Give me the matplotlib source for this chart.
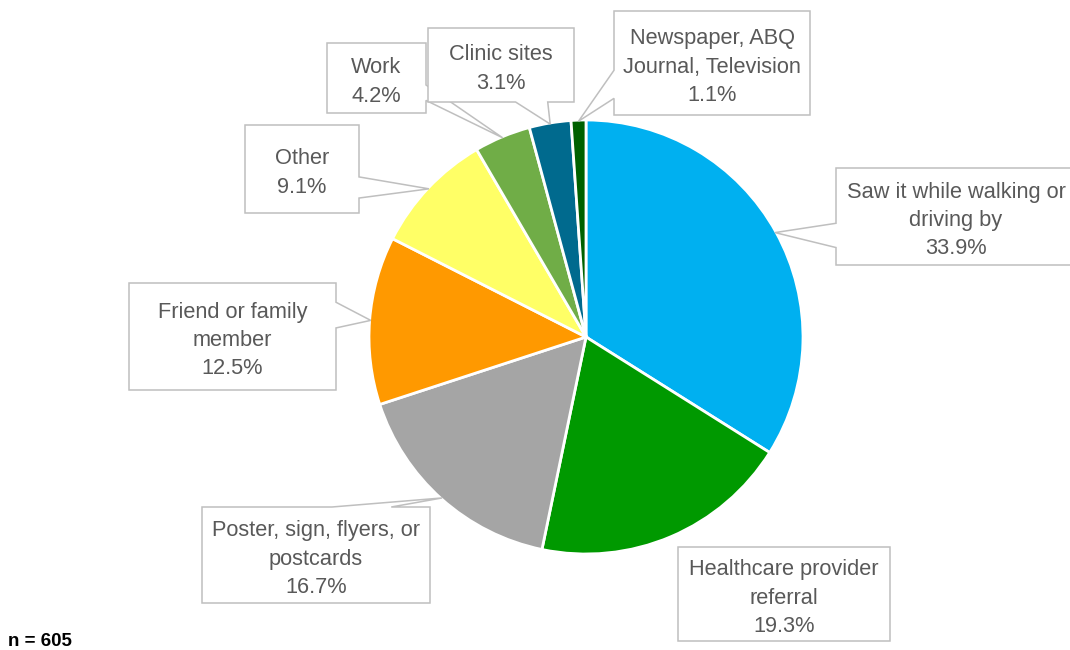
import numpy as np
import matplotlib.pyplot as plt
from matplotlib.patches import Polygon

labels = ["Saw it while walking or\ndriving by", "Healthcare provider\nreferral",
          "Poster, sign, flyers, or\npostcards", "Friend or family\nmember", "Other",
          "Work", "Clinic sites", "Newspaper, ABQ\nJournal, Television"]
values = [33.9, 19.3, 16.7, 12.5, 9.1, 4.2, 3.1, 1.1]
colors = ["#00B0F0", "#009900", "#A5A5A5", "#FF9900", "#FFFF66",
          "#70AD47", "#006A8E", "#006100"]

# callout boxes in pixels (left, top, right, bottom), pointer side and base fractions
boxes = [(836, 168, 1076, 265), (678, 547, 890, 641), (202, 507, 430, 603),
         (129, 283, 336, 390), (245, 125, 359, 213), (327, 43, 426, 113),
         (428, 28, 574, 102), (614, 11, 810, 115)]
sides = ["left", None, "top", "right", "right", "right", "bottom", "left"]
fracs = [(0.57, 0.82), None, (0.57, 0.83), (0.18, 0.42), (0.59, 0.83),
         (0.6, 0.82), (0.6, 0.82), (0.57, 0.84)]

W, H = 1070, 650
cx, cy, r = 586, 337, 217

fig = plt.figure(figsize=(10.7, 6.5), dpi=100)
ax = fig.add_axes([0, 0, 1, 1])
wedges, _ = ax.pie(values, colors=colors, startangle=90, counterclock=False,
                   center=(cx, H - cy), radius=r,
                   wedgeprops=dict(edgecolor="white", linewidth=2))
ax.set_xlim(0, W)
ax.set_ylim(0, H)
ax.set_aspect("equal")
ax.axis("off")


def callout(box, side, fr, tip):
    x0, y0, x1, y1 = box
    w, h = x1 - x0, y1 - y0
    pts = [(x0, y0)]
    if side == "top":
        pts += [(x0 + fr[0] * w, y0), tip, (x0 + fr[1] * w, y0)]
    pts.append((x1, y0))
    if side == "right":
        pts += [(x1, y0 + fr[0] * h), tip, (x1, y0 + fr[1] * h)]
    pts.append((x1, y1))
    if side == "bottom":
        pts += [(x0 + fr[1] * w, y1), tip, (x0 + fr[0] * w, y1)]
    pts.append((x0, y1))
    if side == "left":
        pts += [(x0, y0 + fr[1] * h), tip, (x0, y0 + fr[0] * h)]
    pts = [(px, H - py) for px, py in pts]
    return Polygon(pts, closed=True, fc="white", ec="#BFBFBF", lw=1.1, zorder=3)


for i, wd in enumerate(wedges):
    mid = np.deg2rad((wd.theta1 + wd.theta2) / 2)
    tip = (cx + 0.995 * r * np.cos(mid), cy - 0.995 * r * np.sin(mid))
    ax.add_patch(callout(boxes[i], sides[i], fracs[i], tip))
    x0, y0, x1, y1 = boxes[i]
    txt = "%s\n%.1f%%" % (labels[i], values[i])
    ax.text((x0 + x1) / 2, H - (y0 + y1) / 2 - 4, txt, ha="center", va="center",
            fontsize=15.7, color="#595959", family="Liberation Sans",
            linespacing=1.45, zorder=4)

fig.text(8 / W, 1 - 641 / H, "n = 605", fontsize=13.5, fontweight="bold",
         family="Liberation Sans", color="black", ha="left", va="center")

fig.savefig("out.png", dpi=100)
